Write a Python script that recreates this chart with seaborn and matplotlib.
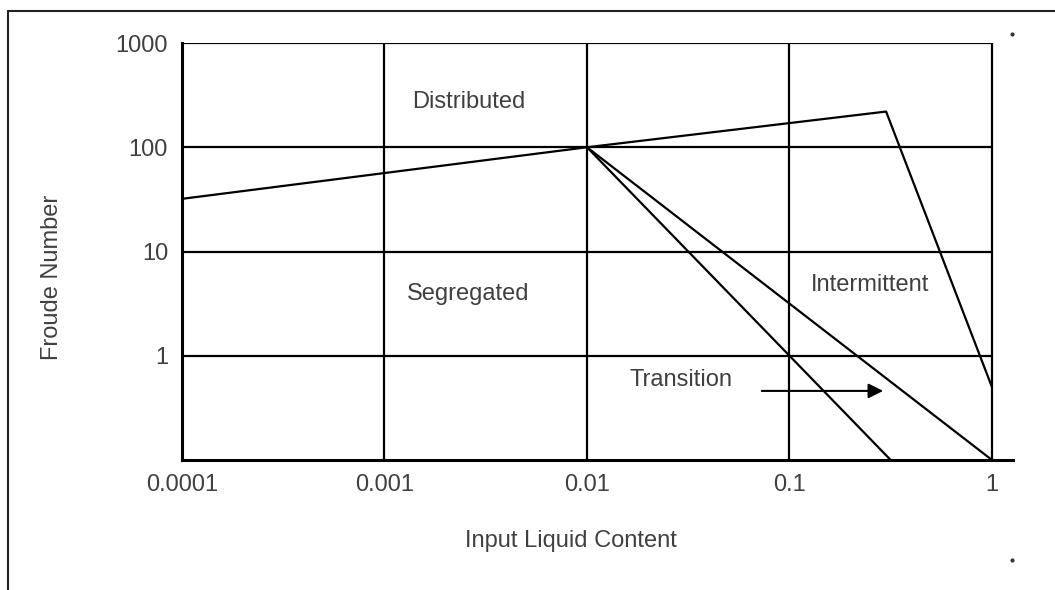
import matplotlib
matplotlib.use("Agg")
import matplotlib.pyplot as plt
from matplotlib.lines import Line2D
import seaborn as sns
import pandas as pd

# ---- data ----
x_ticks = [0.0001, 0.001, 0.01, 0.1, 1]
x_tick_labels = ["0.0001", "0.001", "0.01", "0.1", "1"]
y_ticks = [1, 10, 100, 1000]
y_tick_labels = ["1", "10", "100", "1000"]

upper_x = [0.0001, 0.01, 0.3, 1.0]
upper_y = [32, 100, 220, 0.5]
trans_left_x = [0.01, 0.1, 0.316]
trans_left_y = [100, 1, 0.1]
trans_right_x = [0.01, 1.0]
trans_right_y = [100, 0.1]

region_names = ["Distributed", "Segregated", "Intermittent", "Transition"]
region_x = [0.0026, 0.0026, 0.25, 0.029]
region_y = [270, 3.9, 4.8, 0.58]

arrow_start = (0.073, 0.46)
arrow_end = (0.29, 0.46)

# ---- style ----
sns.set_style("white")
plt.rcParams["font.family"] = ["Liberation Sans", "DejaVu Sans"]
txt_color = "#404040"
fs = 17

fig = plt.figure(figsize=(10.55, 5.9), dpi=100)
W, H = 1055, 590
ax = fig.add_axes([182 / W, 1 - 460 / H, (1013 - 182) / W, (460 - 43) / H])

ax.set_xscale("log")
ax.set_yscale("log")
ax.set_xlim(0.0001, 1.27)
ax.set_ylim(0.1, 1000)

# grid (clipped at x = 1)
ax.hlines(y_ticks, x_ticks[0], x_ticks[-1], color="black", lw=1.6, zorder=1)
ax.vlines(x_ticks[1:], 0.1, 1000, color="black", lw=1.6, zorder=1)

lines = pd.concat([
    pd.DataFrame({"x": upper_x, "y": upper_y, "line": "upper"}),
    pd.DataFrame({"x": trans_left_x, "y": trans_left_y, "line": "left"}),
    pd.DataFrame({"x": trans_right_x, "y": trans_right_y, "line": "right"}),
])
sns.lineplot(data=lines, x="x", y="y", units="line", estimator=None, sort=False,
             color="black", lw=1.6, ax=ax, zorder=3)

for name, xx, yy in zip(region_names, region_x, region_y):
    ax.text(xx, yy, name, ha="center", va="center", fontsize=fs, color=txt_color)

ax.annotate("", xy=arrow_end, xytext=arrow_start,
            arrowprops=dict(arrowstyle="-|>", color="black", lw=1.5,
                            mutation_scale=22, shrinkA=0, shrinkB=0))

for s in ["top", "right"]:
    ax.spines[s].set_visible(False)
for s in ["left", "bottom"]:
    ax.spines[s].set_color("black")
    ax.spines[s].set_linewidth(2.2)

ax.set_xticks(x_ticks)
ax.set_xticklabels(x_tick_labels)
ax.set_yticks(y_ticks)
ax.set_yticklabels(y_tick_labels)
ax.minorticks_off()
ax.tick_params(axis="both", length=0, labelsize=fs, labelcolor=txt_color)
ax.tick_params(axis="x", pad=10)
ax.tick_params(axis="y", pad=10)

ax.set_xlabel("Input Liquid Content", fontsize=fs, color=txt_color)
ax.set_ylabel("Froude Number", fontsize=fs, color=txt_color)
ax.xaxis.set_label_coords((571 - 182) / 831, (460 - 530) / 417)
ax.yaxis.set_label_coords((63 - 182) / 831, (460 - 277) / 417)

# outer frame (left and top edges) and the two scan specks
fx, fy = 8 / W, 1 - 11 / H
fig.add_artist(Line2D([fx, 1.0], [fy, fy], color="#222222", lw=1.5))
fig.add_artist(Line2D([fx, fx], [0.0, fy], color="#222222", lw=1.5))
fig.add_artist(Line2D([1012 / W, 1012 / W], [1 - 34 / H, 1 - 560 / H], ls="none",
                      marker="o", ms=2, color="#333333"))

fig.savefig("out.png", dpi=100)
